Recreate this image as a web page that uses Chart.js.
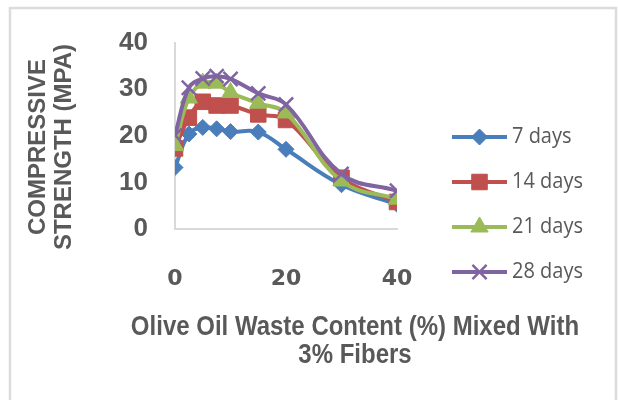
<!DOCTYPE html>
<html>
<head>
<meta charset="utf-8">
<script src="https://cdn.jsdelivr.net/npm/chart.js@4.4.1/dist/chart.umd.min.js"></script>
<style>
  body { margin: 0; background: #fff; }
  #wrap { width: 618px; height: 400px; }
</style>
</head>
<body>
<div id="wrap"><canvas id="strengthChart" width="618" height="400"></canvas></div>
<script>
// x = olive oil waste content (%), values = compressive strength (MPa)
const wasteContent = [0, 2.5, 5, 7.5, 10, 15, 20, 30, 40];
const days7  = [13.2, 20.4, 21.8, 21.5, 20.9, 20.8, 17.1, 9.5, 5.3];
const days14 = [17.3, 23.9, 27.3, 26.5, 26.5, 24.6, 23.4, 11.0, 5.8];
const days21 = [17.9, 28.1, 31.3, 31.3, 29.3, 27.0, 24.9, 10.3, 6.4];
const days28 = [20.1, 30.3, 32.3, 32.8, 32.2, 29.1, 26.7, 11.8, 8.2];
const seriesNames = ['7 days', '14 days', '21 days', '28 days'];
const xTicks = [0, 20, 40];
const yTicks = [0, 10, 20, 30, 40];

const textGray = '#595959';

function toPoints(vals) {
  return vals.map((v, i) => ({ x: wasteContent[i], y: v }));
}

function makeSet(name, vals, color, style, radius, order) {
  return {
    label: name,
    data: toPoints(vals),
    borderColor: color,
    backgroundColor: color,
    borderWidth: 4,
    tension: 0.4,
    pointStyle: style,
    pointRadius: radius,
    pointHoverRadius: radius,
    pointBackgroundColor: color,
    pointBorderColor: color,
    pointBorderWidth: style === 'crossRot' ? 2.5 : 1,
    order: order
  };
}

// frame, axis titles and legend drawn by hand
const extras = {
  id: 'extras',
  beforeDraw(chart) {
    const ctx = chart.ctx;
    ctx.save();
    ctx.fillStyle = '#fff';
    ctx.fillRect(0, 0, chart.width, chart.height);
    ctx.strokeStyle = '#dcdcdc';
    ctx.lineWidth = 2.5;
    ctx.strokeRect(10, 8, 606, 420);
    ctx.restore();
  },
  afterDraw(chart) {
    const ctx = chart.ctx;
    ctx.save();
    ctx.fillStyle = textGray;
    ctx.textAlign = 'center';
    ctx.textBaseline = 'middle';

    // y title
    ctx.font = 'bold 24px "Liberation Sans", Arial, sans-serif';
    ctx.save();
    ctx.translate(0, 147);
    ctx.rotate(-Math.PI / 2);
    ctx.fillText('COMPRESSIVE', 0, 38);
    ctx.fillText('STRENGTH (MPA)', 0, 64);
    ctx.restore();

    // x title, slightly stretched like the source
    ctx.font = 'bold 24px "Liberation Sans", Arial, sans-serif';
    ctx.save();
    ctx.translate(355, 328);
    ctx.scale(1, 1.12);
    ctx.fillText('Olive Oil Waste Content (%) Mixed With', 0, 0);
    ctx.fillText('3% Fibers', 0, 24.5);
    ctx.restore();

    // legend
    const rows = [137, 182, 227, 272];
    chart.data.datasets.forEach((ds, i) => {
      const y = rows[i];
      ctx.strokeStyle = ds.borderColor;
      ctx.fillStyle = ds.borderColor;
      ctx.lineWidth = 4;
      ctx.beginPath();
      ctx.moveTo(452, y);
      ctx.lineTo(507, y);
      ctx.stroke();
      ctx.lineWidth = ds.pointBorderWidth;
      Chart.helpers.drawPoint(ctx, {
        pointStyle: ds.pointStyle,
        radius: ds.pointRadius,
        rotation: 0,
        borderWidth: ds.pointBorderWidth
      }, 479.5, y);
      ctx.fillStyle = textGray;
      ctx.textAlign = 'left';
      ctx.font = '20px "Open Sans", sans-serif';
      ctx.save();
      ctx.translate(512, y);
      ctx.scale(1, 1.1);
      ctx.fillText(ds.label, 0, 0);
      ctx.restore();
    });
    ctx.restore();
  }
};

const ctx = document.getElementById('strengthChart').getContext('2d');
const chart = new Chart(ctx, {
  type: 'line',
  data: {
    datasets: [
      makeSet(seriesNames[0], days7,  '#4A7EBB', 'rectRot', 8, 4),
      makeSet(seriesNames[1], days14, '#C0504D', 'rect', 11, 3),
      makeSet(seriesNames[2], days21, '#9BBB59', 'triangle', 10, 2),
      makeSet(seriesNames[3], days28, '#8064A2', 'crossRot', 10, 1)
    ]
  },
  options: {
    responsive: false,
    animation: false,
    layout: { padding: { left: 0, top: 38, right: 221, bottom: 0 } },
    plugins: {
      legend: { display: false },
      tooltip: { enabled: false }
    },
    scales: {
      x: {
        type: 'linear',
        min: 0,
        max: 40,
        afterBuildTicks: s => { s.ticks = xTicks.map(v => ({ value: v })); },
        afterFit: s => { s.height = 171; },
        grid: { display: false, drawTicks: false },
        border: { display: true, color: '#d9d9d9', width: 2 },
        ticks: {
          padding: 37,
          color: textGray,
          font: { family: '"DejaVu Sans", sans-serif', weight: 'bold', size: 22 }
        }
      },
      y: {
        min: 0,
        max: 40,
        afterBuildTicks: s => { s.ticks = yTicks.map(v => ({ value: v })); },
        afterFit: s => { s.width = 175; },
        grid: { display: false, drawTicks: false },
        border: { display: true, color: '#d9d9d9', width: 2 },
        ticks: {
          padding: 27,
          color: textGray,
          font: { family: '"Liberation Sans", Arial, sans-serif', weight: 'bold', size: 26 }
        }
      }
    }
  },
  plugins: [extras]
});
</script>
</body>
</html>
